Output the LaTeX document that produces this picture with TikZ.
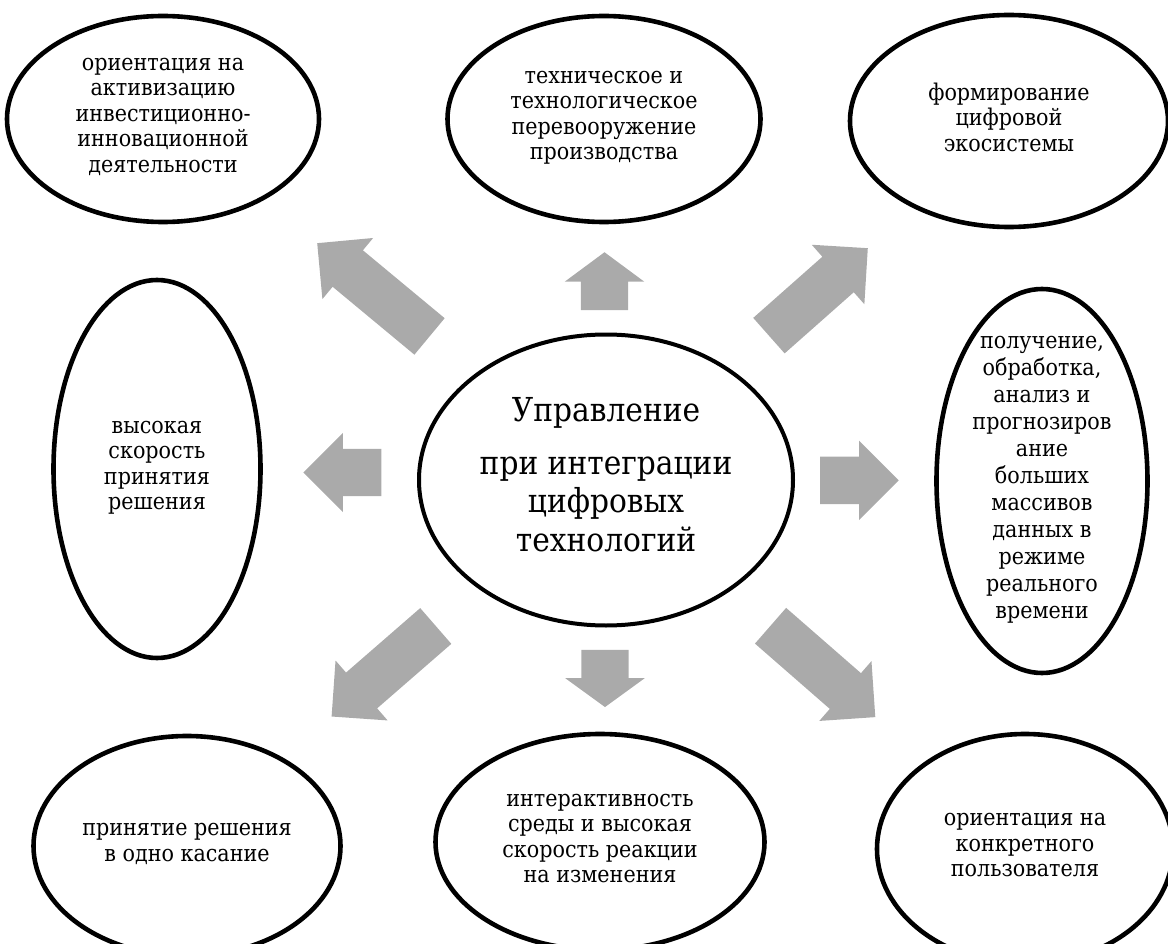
\documentclass[tikz,border=0pt]{standalone}
\usepackage{fontspec}
\setmainfont{DejaVu Serif}[FakeStretch=0.9]
\usetikzlibrary{shapes.geometric,shapes.arrows,positioning}
\definecolor{arrowgray}{RGB}{170,170,170}

\begin{document}
\begin{tikzpicture}[
    x=1pt, y=-1pt,
    oval/.style={draw, ellipse, line width=4.6pt, inner sep=0pt, align=center, font=\fontsize{23}{25.5}\selectfont,
        execute at begin node=\strut, execute at end node=\strut},
    blockarrow/.style={single arrow, fill=arrowgray, inner xsep=0pt, inner ysep=23.5pt, single arrow head extend=16pt, anchor=tip}
]
\useasboundingbox (0,0) rectangle (1168,944);
\clip (0,0) rectangle (1168,944);

% Centre
\node[oval, line width=4pt, minimum width=374pt, minimum height=291pt, font=\fontsize{33}{38.5}\selectfont] (core) at (606,480) {Управление\\[14pt]при интеграции\\цифровых\\технологий};

% Top row
\node[oval, minimum width=312pt, minimum height=206pt] (invest) at (163,119) {ориентация на\\активизацию\\инвестиционно-\\инновационной\\деятельности};
\node[oval, minimum width=313pt, minimum height=206pt] (tech) at (604,119) {техническое и\\технологическое\\перевооружение\\производства};
\node[oval, minimum width=318pt, minimum height=212pt] (eco) at (1009,121) {формирование\\цифровой\\экосистемы};

% Middle row
\node[oval, minimum width=207pt, minimum height=378pt] (speed) at (157,469) {высокая\\скорость\\принятия\\решения};
\node[oval, minimum width=211pt, minimum height=384pt, inner ysep=-14pt, font=\fontsize{23}{27}\selectfont] (bigdata) at (1042,481) {получение,\\обработка,\\анализ и\\прогнозиров\\ание\\больших\\массивов\\данных в\\режиме\\реального\\времени};

% Bottom row
\node[oval, minimum width=307pt, minimum height=220pt] (touch) at (187,846) {принятие решения\\в одно касание};
\node[oval, minimum width=329pt, minimum height=216pt] (interact) at (600,842) {интерактивность\\среды и высокая\\скорость реакции\\на изменения};
\node[oval, minimum width=296pt, minimum height=230pt] (user) at (1025,849) {ориентация на\\конкретного\\пользователя};

% Block arrows (placed by their tips)
\node[blockarrow, rotate=140.3, minimum height=146pt] (toInvest) at (317,243) {};
\node[blockarrow, rotate=90, minimum height=58pt, single arrow tip angle=107] (toTech) at (604.5,252) {};
\node[blockarrow, rotate=41.5, minimum height=132pt] (toEco) at (868,248) {};
\node[blockarrow, rotate=180, minimum height=78pt] (toSpeed) at (303,472.5) {};
\node[blockarrow, rotate=0, minimum height=78.6pt] (toBigdata) at (899,480.3) {};
\node[blockarrow, rotate=221, minimum height=138pt] (toTouch) at (331.4,716.7) {};
\node[blockarrow, rotate=-90, minimum height=57.3pt, single arrow tip angle=108] (toInteract) at (605,707.3) {};
\node[blockarrow, rotate=-41.1, minimum height=139pt] (toUser) at (875.5,717.3) {};

\end{tikzpicture}
\end{document}
